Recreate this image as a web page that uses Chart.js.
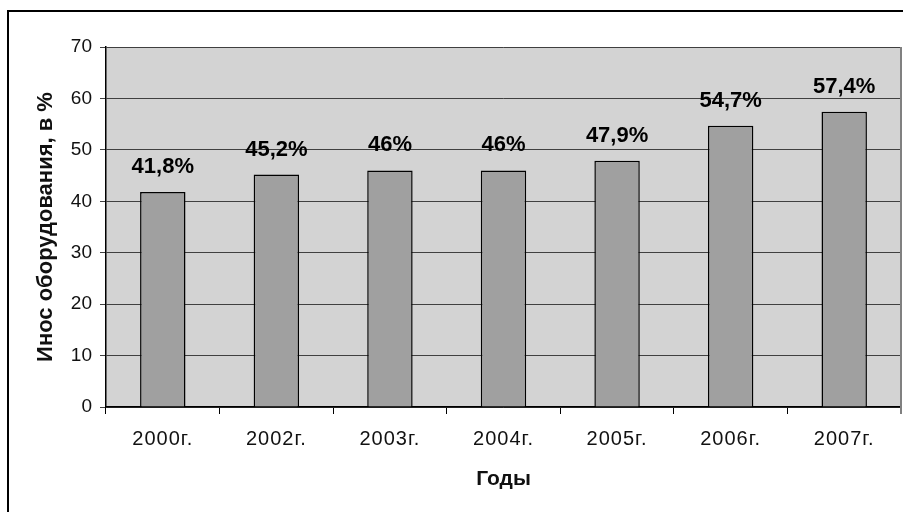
<!DOCTYPE html>
<html>
<head>
<meta charset="utf-8">
<script src="https://cdn.jsdelivr.net/npm/chart.js@4"></script>
<style>
  html, body { margin: 0; padding: 0; background: #fff; }
  #wrap { width: 903px; height: 512px; position: relative; }
</style>
</head>
<body>
<div id="wrap"><canvas id="chart" width="903" height="512"></canvas></div>
<script>
// Данные диаграммы
const years = ['2000г.', '2002г.', '2003г.', '2004г.', '2005г.', '2006г.', '2007г.'];
const wear = [41.8, 45.2, 46, 46, 47.9, 54.7, 57.4];  // Износ оборудования, %
const yTicks = [0, 10, 20, 30, 40, 50, 60, 70];

const font = 'Arial, "Liberation Sans", sans-serif';

// Фон области построения, рамка и внешняя граница
const decor = {
    id: 'decor',
    afterUpdate(chart) {
        // чуть разреженные подписи годов
        const s = chart.scales.x;
        if (!s._spaced) {
            const orig = s.drawLabels.bind(s);
            s.drawLabels = function (area) {
                this.ctx.save();
                this.ctx.letterSpacing = '1px';
                orig(area);
                this.ctx.restore();
            };
            s._spaced = true;
        }
    },
    beforeDraw(chart) {
        const { ctx, chartArea: a } = chart;
        ctx.save();
        ctx.strokeStyle = '#000';
        ctx.lineWidth = 2;
        ctx.strokeRect(8, 11, 905, 510);
        ctx.fillStyle = '#d3d3d3';
        ctx.fillRect(a.left, a.top, a.right - a.left, a.bottom - a.top);
        ctx.restore();
    },
    afterDatasetsDraw(chart) {
        const { ctx, chartArea: a } = chart;
        ctx.save();
        // подписи значений
        ctx.fillStyle = '#000';
        ctx.font = 'bold 22px ' + font;
        ctx.textAlign = 'center';
        ctx.textBaseline = 'middle';
        chart.getDatasetMeta(0).data.forEach((bar, i) => {
            const txt = String(wear[i]).replace('.', ',') + '%';
            ctx.fillText(txt, bar.x, bar.y - 25);
        });
        // правая граница области
        ctx.strokeStyle = '#808080';
        ctx.lineWidth = 2;
        ctx.beginPath();
        ctx.moveTo(a.right, a.top);
        ctx.lineTo(a.right, a.bottom + 7);
        ctx.stroke();
        ctx.restore();
    }
};

new Chart(document.getElementById('chart'), {
    type: 'bar',
    data: {
        labels: years,
        datasets: [{
            data: wear,
            backgroundColor: '#a0a0a0',
            borderColor: '#000',
            borderWidth: 1.5,
            barPercentage: 0.4,
            categoryPercentage: 1
        }]
    },
    options: {
        responsive: false,
        animation: false,
        layout: { padding: { left: 0, top: 47, right: 2, bottom: 0 } },
        plugins: {
            legend: { display: false },
            tooltip: { enabled: false }
        },
        scales: {
            x: {
                afterFit: s => { s.height = 105; },
                grid: {
                    offset: true,
                    drawOnChartArea: false,
                    color: '#000',
                    tickLength: 7
                },
                border: { color: '#000', width: 1.5 },
                ticks: { color: '#111', font: { family: font, size: 20 }, padding: 13 },
                title: {
                    display: true,
                    text: 'Годы',
                    color: '#111',
                    font: { family: font, size: 21, weight: 'bold' },
                    padding: { bottom: 20 }
                }
            },
            y: {
                min: 0,
                max: 70,
                afterFit: s => { s.width = 106; },
                afterBuildTicks: s => { s.ticks = yTicks.map(v => ({ value: v })); },
                grid: { color: '#404040', lineWidth: 1, tickLength: 6 },
                border: { color: '#000', width: 1.5 },
                ticks: { color: '#111', font: { family: font, size: 19 }, padding: 8 },
                title: {
                    display: true,
                    text: 'Инос оборудования, в %',
                    color: '#111',
                    font: { family: font, size: 22, weight: 'bold' },
                    padding: { top: 33 }
                }
            }
        }
    },
    plugins: [decor]
});
</script>
</body>
</html>
